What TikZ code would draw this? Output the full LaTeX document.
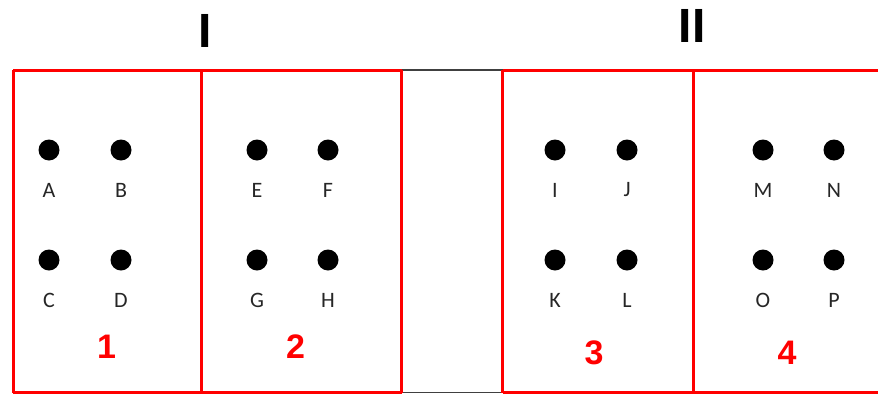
\documentclass[tikz,border=0pt]{standalone}
\usepackage{fontspec}
\setmainfont{Liberation Sans}
\newfontfamily\lblfont{Carlito}
\begin{document}
\begin{tikzpicture}[x=1pt,y=-1pt,
  redline/.style={draw=red,line width=3pt},
  grayline/.style={draw=black!75,line width=1.8pt},
  dot/.style={circle,fill=black,inner sep=0pt,minimum size=21pt},
  lbl/.style={font=\lblfont\fontsize{22}{22}\selectfont,text=black!85,inner sep=0pt},
  num/.style={font=\bfseries\fontsize{34}{34}\selectfont,text=red,inner sep=0pt},
  head/.style={font=\bfseries\fontsize{48}{48}\selectfont,text=black,inner sep=0pt}]
\useasboundingbox (0,0) rectangle (878,394);
% corner coordinates
\coordinate (t1) at (13,70); \coordinate (t2) at (201.5,70); \coordinate (t3) at (401.5,70);
\coordinate (t4) at (502.5,70); \coordinate (t5) at (693,70); \coordinate (t6) at (878,70);
\coordinate (b1) at (13,392.5); \coordinate (b2) at (201.5,392.5); \coordinate (b3) at (401.5,392.5);
\coordinate (b4) at (502.5,392.5); \coordinate (b5) at (693,392.5); \coordinate (b6) at (878,392.5);
% gap lines
\draw[grayline] (t3) -- (t4);
\draw[grayline] (b3) -- (b4);
% red frames
\draw[redline] (t1) -- (t3);
\draw[redline] (t4) -- (t6);
\draw[redline] (b1) -- (b3);
\draw[redline] (b4) -- (b6);
\draw[redline] (t1) -- (b1);
\draw[redline] (t2) -- (b2);
\draw[redline] (t3) -- (b3);
\draw[redline] (t4) -- (b4);
\draw[redline] (t5) -- (b5);
% headers
\node[head] (hI) at (205,31) {I};
\node[head] (hII) at (692,26) {II};
% dots
\foreach \n/\x/\y in {A/49/150,B/121/150,C/49/260,D/121/260,
                      E/257/150,F/328/150,G/257/260,H/328/260,
                      I/555/150,J/627/150,K/555/260,L/627/260,
                      M/763/150,N/834/150,O/763/260,P/834/260}{
  \node[dot] (d\n) at (\x,\y) {};
  \node[lbl] (l\n) at (\x,\y+40) {\n};
}
% numbers
\node[num] (n1) at (106.5,347) {1};
\node[num] (n2) at (295.5,347) {2};
\node[num] (n3) at (594,353) {3};
\node[num] (n4) at (787,353) {4};
\end{tikzpicture}
\end{document}
